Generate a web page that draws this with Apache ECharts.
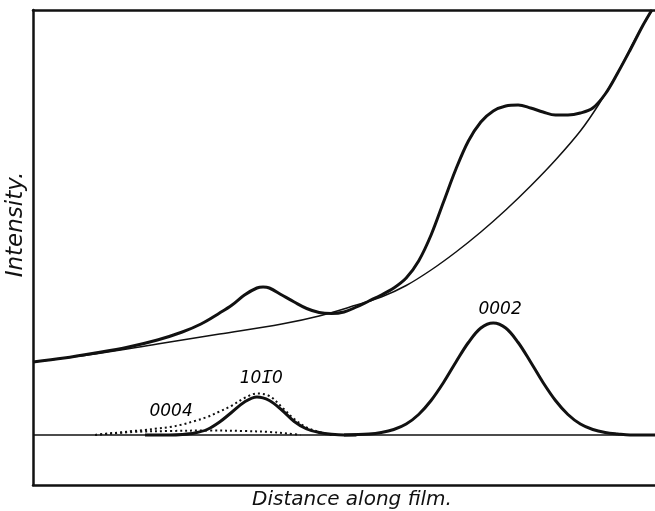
<!DOCTYPE html>
<html>
<head>
<meta charset="utf-8">
<script src="https://cdn.jsdelivr.net/npm/echarts@6/dist/echarts.min.js"></script>
<style>
  html, body { margin: 0; padding: 0; background: #fff; }
  #chart { width: 655px; height: 511px; }
</style>
</head>
<body>
<div id="chart"></div>
<script>
// distance along film (arbitrary units 0-100), intensity (arbitrary, 0 = film baseline)
const bgX = [0, 10, 20, 30, 40, 46, 52, 56, 60, 64, 68, 72, 76, 80, 84, 88, 91, 94, 97, 99.5];
const bgY = [14.6, 16.2, 18.2, 20.2, 22.2, 23.8, 26.0, 27.6, 29.9, 33.0, 36.6, 40.6, 45.0, 49.8, 55.0, 60.8, 66.2, 72.5, 79.6, 85.0];

const totalX = [0, 5, 10, 15, 20, 24, 27, 30, 32, 34, 36, 37, 38, 40, 42, 44, 46, 48, 50, 52, 54, 56, 58, 60,
  62, 64, 66, 68, 70, 72, 74, 76, 78, 80, 82, 84, 86, 88, 90, 92, 94, 96, 98, 99.5];
const totalY = [14.6, 15.4, 16.4, 17.5, 19.0, 20.6, 22.2, 24.4, 26.0, 28.0, 29.4, 29.6, 29.4, 28.0, 26.6, 25.3, 24.5, 24.3, 24.6, 25.6, 26.8, 28.0, 29.4, 31.4,
  34.8, 40.0, 46.6, 53.2, 58.8, 62.6, 64.8, 65.8, 66.0, 65.4, 64.6, 64.0, 64.0, 64.4, 65.4, 68.2, 72.4, 77.0, 81.8, 85.0];

const peak0002X = [50, 54, 56, 58, 60, 62, 64, 66, 68, 70, 72, 74, 76, 78, 80, 82, 84, 86, 88, 90, 92, 94, 96, 100];
const peak0002Y = [0, 0.2, 0.5, 1.1, 2.2, 4.1, 6.9, 10.5, 14.6, 18.5, 21.4, 22.4, 21.4, 18.5, 14.6, 10.5, 6.9, 4.1, 2.2, 1.1, 0.5, 0.2, 0, 0];

const peak1010X = [18, 22, 24, 26, 28, 30, 32, 34, 36, 38, 40, 42, 44, 46, 48, 50, 52];
const peak1010Y = [0, 0, 0.1, 0.4, 1.1, 2.6, 4.6, 6.6, 7.6, 6.9, 5.0, 2.7, 1.2, 0.5, 0.15, 0, 0];

const sumX = [10, 12, 14, 16, 18, 20, 22, 24, 26, 28, 30, 32, 34, 36, 38, 40, 42, 44, 46, 48];
const sumY = [0, 0.3, 0.5, 0.8, 1.0, 1.3, 1.6, 2.1, 2.8, 3.6, 4.7, 5.9, 7.4, 8.3, 7.8, 5.6, 3.2, 1.5, 0.6, 0];

const peak0004X = [10, 16, 22, 28, 34, 38, 41, 43];
const peak0004Y = [0, 0.6, 0.8, 0.9, 0.8, 0.6, 0.3, 0];

const labelNames = ['0002', '101\u03040', '0004'];
const labelX = [75.1, 36.7, 22.2];
const labelY = [25.0, 11.2, 4.6];

const pairs = (xs, ys) => xs.map((x, i) => [x, ys[i]]);

const ink = '#111';
const lineSeries = (name, xs, ys, width, type) => ({
  name: name,
  type: 'line',
  data: pairs(xs, ys),
  symbol: 'none',
  smooth: 0.35,
  silent: true,
  lineStyle: { color: ink, width: width, type: type },
  z: 3
});

const chart = echarts.init(document.getElementById('chart'));

const option = {
  animation: false,
  backgroundColor: '#fff',
  grid: { left: 33, right: 0, top: 10, bottom: 26, containLabel: false, outerBoundsMode: 'none' },
  xAxis: [
    {
      type: 'value', min: 0, max: 100,
      name: 'Distance along film.',
      nameLocation: 'middle', nameGap: 5,
      nameTextStyle: { fontFamily: 'DejaVu Sans', fontStyle: 'italic', fontSize: 20, color: ink, padding: [0, 0, 0, 16] },
      axisLine: { show: true, onZero: false, lineStyle: { color: ink, width: 2.5 } },
      axisTick: { show: false }, axisLabel: { show: false }, splitLine: { show: false }
    },
    {
      type: 'value', min: 0, max: 100, position: 'top',
      axisLine: { show: true, onZero: false, lineStyle: { color: ink, width: 2.5 } },
      axisTick: { show: false }, axisLabel: { show: false }, splitLine: { show: false }
    }
  ],
  yAxis: {
    type: 'value', min: -10, max: 85,
    name: 'Intensity.',
    nameLocation: 'middle', nameGap: 5, nameRotate: 90,
    nameTextStyle: { fontFamily: 'DejaVu Sans', fontStyle: 'italic', fontSize: 23, color: ink, padding: [0, 0, 0, 46] },
    axisLine: { show: true, onZero: false, lineStyle: { color: ink, width: 2.5 } },
    axisTick: { show: false }, axisLabel: { show: false }, splitLine: { show: false }
  },
  series: [
    {
      name: 'baseline',
      type: 'line',
      data: [[0, 0], [100, 0]],
      symbol: 'none',
      silent: true,
      lineStyle: { color: ink, width: 1.5 },
      z: 2
    },
    lineSeries('background', bgX, bgY, 1.5, 'solid'),
    lineSeries('total', totalX, totalY, 3, 'solid'),
    lineSeries('0002', peak0002X, peak0002Y, 3, 'solid'),
    lineSeries('1010', peak1010X, peak1010Y, 3, 'solid'),
    lineSeries('sum', sumX, sumY, 2, [2, 3]),
    lineSeries('0004', peak0004X, peak0004Y, 2, [2, 3]),
    {
      name: 'labels',
      type: 'scatter',
      symbolSize: 0,
      silent: true,
      itemStyle: { opacity: 1 },
      data: labelNames.map((n, i) => ({ name: n, value: [labelX[i], labelY[i]] })),
      label: {
        show: true, position: 'inside',
        formatter: '{b}',
        fontFamily: 'DejaVu Sans', fontStyle: 'italic', fontSize: 17, color: '#000'
      }
    }
  ]
};

chart.setOption(option);
</script>
</body>
</html>
